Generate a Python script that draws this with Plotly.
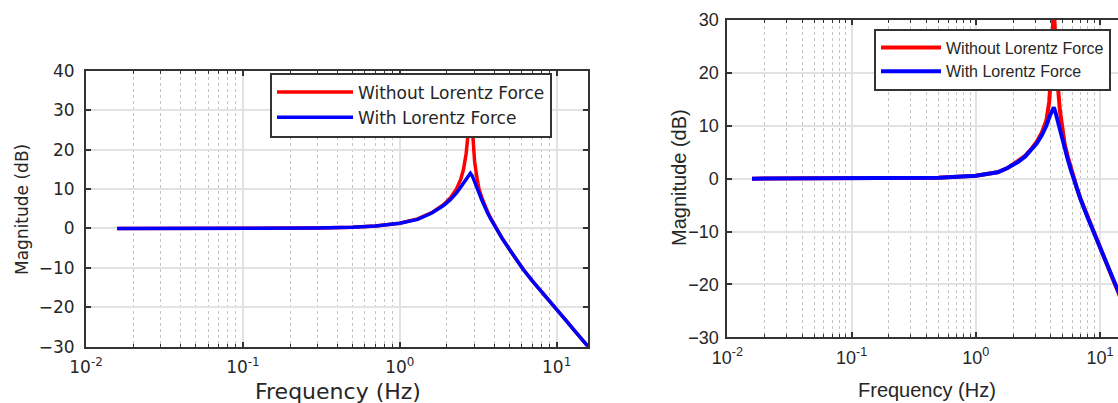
import plotly.graph_objects as go

W, H = 1118, 403

# ---------------- data ----------------
# Left panel
left_freq_blue = [0.0158, 0.03, 0.05, 0.1, 0.2, 0.3, 0.5, 0.7, 1.0, 1.3, 1.6, 1.9, 2.1, 2.3, 2.5,
                  2.65, 2.75, 2.82, 2.9, 3.0, 3.2, 3.35, 3.5, 3.65, 3.8, 3.95, 4.1, 4.3, 4.5, 5.0,
                  5.5, 6.1, 7.0, 8.0, 9.0, 10.0, 11.5, 13.0, 14.5, 15.9]
left_mag_blue = [0.0, 0.0, 0.0, 0.02, 0.05, 0.1, 0.3, 0.6, 1.3, 2.3, 3.9, 5.8, 7.3, 9.0, 11.0,
                 12.6, 13.5, 14.0, 13.3, 12.0, 9.0, 7.0, 5.2, 3.7, 2.4, 1.2, 0.1, -1.3, -2.6, -5.3,
                 -7.8, -10.3, -13.3, -16.1, -18.5, -20.6, -23.4, -25.9, -28.1, -30.0]
left_freq_red = [0.0158, 0.03, 0.05, 0.1, 0.2, 0.3, 0.5, 0.7, 1.0, 1.3, 1.6, 1.9, 2.1, 2.3, 2.45,
                 2.55, 2.65, 2.72, 2.78, 2.82, 2.86, 2.92, 3.0, 3.1, 3.2, 3.35, 3.5, 3.65, 3.8, 3.95,
                 4.1, 4.3, 4.5, 5.0, 5.5, 6.1, 7.0, 8.0, 9.0, 10.0, 11.5, 13.0, 14.5, 15.9]
left_mag_red = [0.0, 0.0, 0.0, 0.02, 0.05, 0.1, 0.3, 0.6, 1.3, 2.4, 4.0, 6.0, 7.7, 10.0, 12.5,
                15.0, 19.0, 23.5, 30.0, 34.0, 29.0, 22.5, 17.0, 13.0, 10.0, 7.6, 5.6, 4.0, 2.6, 1.4,
                0.2, -1.2, -2.5, -5.3, -7.8, -10.3, -13.3, -16.1, -18.5, -20.6, -23.4, -25.9, -28.1, -30.0]

# Right panel
right_freq_blue = [0.0158, 0.05, 0.1, 0.2, 0.5, 1.0, 1.5, 1.8, 2.2, 2.5, 2.8, 3.1, 3.4, 3.7, 3.95,
                   4.1, 4.25, 4.4, 4.55, 4.82, 5.12, 5.45, 5.8, 6.12, 6.5, 7.0, 8.0, 8.85, 10.0,
                   11.5, 12.8, 14.0, 16.0, 20.0]
right_mag_blue = [0.0, 0.0, 0.02, 0.05, 0.15, 0.55, 1.2, 2.0, 3.2, 4.2, 5.4, 6.7, 8.2, 10.0, 11.9,
                  12.9, 13.5, 12.4, 11.0, 8.8, 6.4, 4.0, 1.8, 0.0, -1.9, -4.0, -7.5, -10.0, -13.1,
                  -16.8, -19.3, -21.5, -25.0, -30.0]
right_freq_red = [0.0158, 0.05, 0.1, 0.2, 0.5, 1.0, 1.5, 1.8, 2.2, 2.5, 2.8, 3.1, 3.4, 3.7, 3.9,
                  4.0, 4.1, 4.18, 4.24, 4.3, 4.4, 4.55, 4.75, 4.95, 5.2, 5.5, 5.8, 6.12, 6.5, 7.0,
                  8.0, 8.85, 10.0, 11.5, 12.8, 14.0, 16.0, 20.0]
right_mag_red = [0.0, 0.0, 0.02, 0.05, 0.15, 0.55, 1.2, 2.0, 3.3, 4.3, 5.6, 7.0, 8.7, 11.0, 14.5,
                 17.5, 22.0, 28.0, 36.0, 30.0, 24.5, 18.5, 13.0, 9.5, 6.5, 4.2, 2.1, 0.3, -1.7, -3.9,
                 -7.4, -9.9, -13.0, -16.7, -19.2, -21.4, -25.0, -30.0]

series_names = ["Without Lorentz Force", "With Lorentz Force"]
series_colors = ["#ff0000", "#0000ff"]

x_tick_vals = [0.01, 0.1, 1, 10]
x_tick_text = ["10<sup>-2</sup>", "10<sup>-1</sup>", "10<sup>0</sup>", "10<sup>1</sup>"]

# ---------------- figure ----------------
TXT = "#262626"
AX = "#333333"
GRID = "#e2e2e2"
MINOR = "#c4c4c4"
LFONT = "DejaVu Sans"
RFONT = "Liberation Sans, Arial, sans-serif"

fig = go.Figure()

fig.add_trace(go.Scatter(x=left_freq_red, y=left_mag_red, mode="lines", name=series_names[0],
                         line=dict(color=series_colors[0], width=3.5), xaxis="x", yaxis="y",
                         legend="legend"))
fig.add_trace(go.Scatter(x=left_freq_blue, y=left_mag_blue, mode="lines", name=series_names[1],
                         line=dict(color=series_colors[1], width=3.5), xaxis="x", yaxis="y",
                         legend="legend"))
fig.add_trace(go.Scatter(x=right_freq_red, y=right_mag_red, mode="lines", name=series_names[0],
                         line=dict(color=series_colors[0], width=4), xaxis="x2", yaxis="y2",
                         legend="legend2"))
fig.add_trace(go.Scatter(x=right_freq_blue, y=right_mag_blue, mode="lines", name=series_names[1],
                         line=dict(color=series_colors[1], width=4), xaxis="x2", yaxis="y2",
                         legend="legend2"))


def xaxis_common(font, size, standoff):
    return dict(
        type="log", tickmode="array", tickvals=x_tick_vals, ticktext=x_tick_text,
        showline=True, linecolor=AX, linewidth=2, mirror="allticks",
        ticks="inside", ticklen=5, tickwidth=1.5, tickcolor=AX,
        showgrid=True, gridcolor=GRID, gridwidth=1.5,
        minor=dict(dtick="D1", ticks="inside", ticklen=3, tickcolor=AX, tickwidth=1,
                   showgrid=True, gridcolor=MINOR, griddash="dot", gridwidth=1),
        tickfont=dict(family=font, size=size, color=TXT), ticklabelstandoff=standoff,
        zeroline=False, fixedrange=True, automargin=False,
    )


def yaxis_common(font, size, mirror, standoff):
    return dict(
        dtick=10, showline=True, linecolor=AX, linewidth=2, mirror=mirror,
        ticks="inside", ticklen=5, tickwidth=1.5, tickcolor=AX,
        showgrid=True, gridcolor=GRID, gridwidth=1.5,
        tickfont=dict(family=font, size=size, color=TXT), ticklabelstandoff=standoff,
        zeroline=False, fixedrange=True, automargin=False,
    )


xa1 = xaxis_common(LFONT, 17, 4)
xa1.update(domain=[86 / W, 588 / W], range=[-2, 1.2], anchor="y")
ya1 = yaxis_common(LFONT, 17, "allticks", 6)
ya1.update(domain=[1 - 346.7 / H, 1 - 70.7 / H], range=[-30, 40], anchor="x")

xa2 = xaxis_common(RFONT, 18, 3)
xa2.update(domain=[727.3 / W, 1.0], range=[-2, 1.145], anchor="y2")
ya2 = yaxis_common(RFONT, 18, False, 3)
ya2.update(domain=[1 - 337.3 / H, 1 - 20 / H], range=[-30, 30], anchor="x2")

fig.update_layout(
    width=W, height=H,
    margin=dict(l=0, r=0, t=0, b=0, autoexpand=False),
    paper_bgcolor="white", plot_bgcolor="white",
    xaxis=xa1, yaxis=ya1, xaxis2=xa2, yaxis2=ya2,
    showlegend=True,
    legend=dict(x=270 / W, y=1 - 105 / H, xanchor="left", yanchor="middle",
                bgcolor="white", bordercolor=AX, borderwidth=2,
                font=dict(family=LFONT, size=17, color=TXT),
                itemwidth=76, tracegroupgap=0),
    legend2=dict(x=1111 / W, y=1 - 59.5 / H, xanchor="right", yanchor="middle",
                 bgcolor="white", bordercolor=AX, borderwidth=2,
                 font=dict(family=RFONT, size=16, color=TXT),
                 itemwidth=60, tracegroupgap=0),
    annotations=[
        dict(text="Frequency (Hz)", x=338 / W, y=1 - 391 / H, xref="paper", yref="paper",
             xanchor="center", yanchor="middle", showarrow=False,
             font=dict(family=LFONT, size=22, color=TXT)),
        dict(text="Magnitude (dB)", x=22 / W, y=1 - 210 / H, xref="paper", yref="paper",
             xanchor="center", yanchor="middle", showarrow=False, textangle=-90,
             font=dict(family=LFONT, size=17, color=TXT)),
        dict(text="Frequency (Hz)", x=927 / W, y=1 - 390 / H, xref="paper", yref="paper",
             xanchor="center", yanchor="middle", showarrow=False,
             font=dict(family=RFONT, size=20, color=TXT)),
        dict(text="Magnitude (dB)", x=679 / W, y=1 - 178 / H, xref="paper", yref="paper",
             xanchor="center", yanchor="middle", showarrow=False, textangle=-90,
             font=dict(family=RFONT, size=20, color=TXT)),
    ],
)

fig.write_html("out.html", config={"displayModeBar": False},
               post_script="document.body.style.margin='0';document.body.style.overflow='hidden';")
